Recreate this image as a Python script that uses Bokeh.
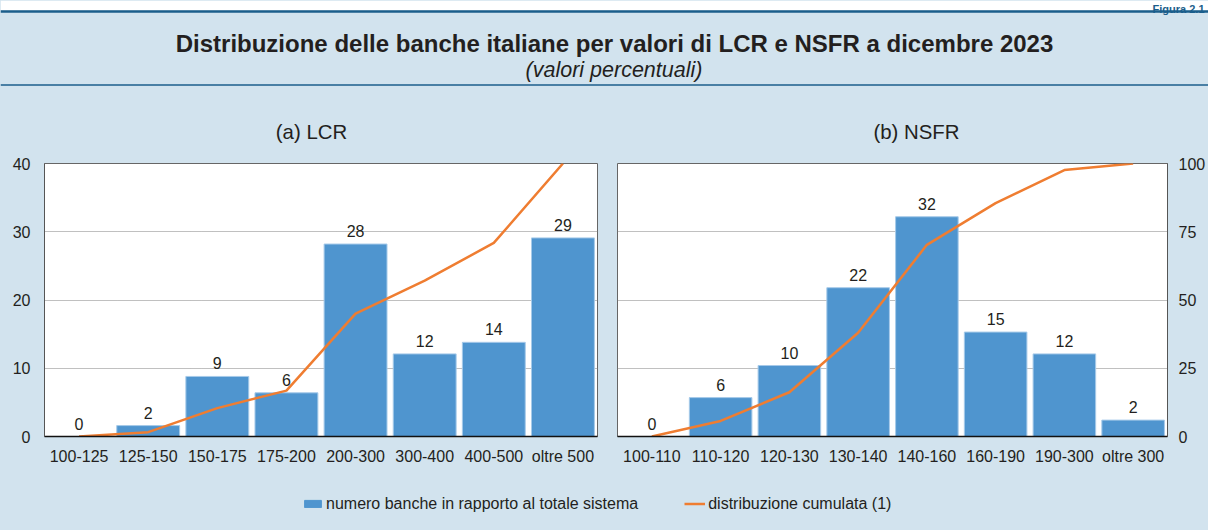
from bokeh.plotting import figure
from bokeh.layouts import column, row
from bokeh.models import (Range1d, FactorRange, LinearAxis, FixedTicker, Span, BoxAnnotation,
                          Legend, LegendItem, ColumnDataSource)
from bokeh.core.properties import value
from bokeh.embed import file_html
from bokeh.resources import INLINE

# ---------------- data ----------------
figure_tag = "Figura 2.1"
title_text = "Distribuzione delle banche italiane per valori di LCR e NSFR a dicembre 2023"
subtitle_text = "(valori percentuali)"
panel_a_title = "(a) LCR"
panel_b_title = "(b) NSFR"
bar_series_name = "numero banche in rapporto al totale sistema"
line_series_name = "distribuzione cumulata (1)"

lcr_categories = ["100-125", "125-150", "150-175", "175-200", "200-300", "300-400", "400-500", "oltre 500"]
lcr_values = [0, 1.6, 8.8, 6.4, 28.2, 12.1, 13.8, 29.1]
lcr_labels = ["0", "2", "9", "6", "28", "12", "14", "29"]
lcr_cumulative = [0, 1.6, 10.4, 16.8, 45.0, 57.1, 70.9, 100]

nsfr_categories = ["100-110", "110-120", "120-130", "130-140", "140-160", "160-190", "190-300", "oltre 300"]
nsfr_values = [0, 5.7, 10.4, 21.8, 32.2, 15.3, 12.1, 2.4]
nsfr_labels = ["0", "6", "10", "22", "32", "15", "12", "2"]
nsfr_cumulative = [0, 5.7, 16.2, 38.0, 70.2, 85.5, 97.6, 100]

bar_ticks = [0, 10, 20, 30, 40]
cum_ticks = [0, 25, 50, 75, 100]
grid_ticks = [10, 20, 30]

# ---------------- style ----------------
BG = "#d2e3ee"
DARK = "#1b5e8b"
BAR = "#4f95cf"
BAR_EDGE = "#a6cae9"
LINE = "#ef7d31"
TEXT = "#231f20"
FONT = "Liberation Sans"
TOTAL_W = 1208
HEADER_H = 148
PANEL_H = 322
LEGEND_H = 60
P1_W = 607


def style_axis(ax, standoff):
    ax.major_tick_line_color = None
    ax.minor_tick_line_color = None
    ax.major_tick_out = 0
    ax.major_tick_in = 0
    ax.major_label_text_font = FONT
    ax.major_label_text_font_size = "16px"
    ax.major_label_text_color = TEXT
    ax.major_label_standoff = standoff


def make_panel(categories, values, labels, cumulative, width, b_left, b_right, left_axis, right_axis):
    p = figure(width=width, height=PANEL_H, x_range=FactorRange(factors=categories),
               y_range=Range1d(0, 40), output_backend="svg", toolbar_location=None,
               min_border_left=b_left, min_border_right=b_right, min_border_top=15,
               min_border_bottom=34, background_fill_color="white", border_fill_color=BG,
               outline_line_color="#666666", outline_line_width=1)
    p.extra_y_ranges = {"cum": Range1d(0, 100)}
    src = ColumnDataSource(dict(cat=categories, val=values, lab=labels, cum=cumulative))

    p.vbar(x="cat", top="val", width=0.91, source=src, fill_color=BAR,
           line_color=BAR_EDGE, line_width=1)
    p.line(x="cat", y="cum", source=src, y_range_name="cum", line_color=LINE, line_width=2.5)
    p.text(x="cat", y="val", text="lab", source=src, y_offset=-13,
           text_align="center", text_baseline="middle", text_font=value(FONT),
           text_font_size="16px", text_color=TEXT)

    p.xgrid.visible = False
    p.ygrid.ticker = FixedTicker(ticks=grid_ticks)
    p.ygrid.grid_line_color = "#808080"
    p.ygrid.grid_line_dash = "1 1"
    p.ygrid.grid_line_width = 1

    xa = p.xaxis[0]
    style_axis(xa, 11)
    xa.axis_line_color = "#111111"
    xa.axis_line_width = 1.5

    ya = p.yaxis[0]
    ya.ticker = FixedTicker(ticks=bar_ticks)
    style_axis(ya, 14)
    ya.axis_line_color = "#555555"
    if not left_axis:
        ya.visible = False

    if right_axis:
        ra = LinearAxis(y_range_name="cum", ticker=FixedTicker(ticks=cum_ticks))
        style_axis(ra, 11)
        ra.axis_line_color = "#555555"
        p.add_layout(ra, "right")
    return p


# ---------------- header ----------------
header = figure(width=TOTAL_W, height=HEADER_H, x_range=Range1d(0, TOTAL_W),
                y_range=Range1d(HEADER_H, 0), x_axis_type=None, y_axis_type=None,
                output_backend="svg", toolbar_location=None, min_border=0,
                background_fill_color=BG, border_fill_color=BG, outline_line_color=None)
header.grid.visible = False
header.add_layout(BoxAnnotation(top=0, bottom=10, fill_color="white", fill_alpha=1,
                                line_color=None, level="underlay"))
header.add_layout(Span(location=11, dimension="width", line_color=DARK, line_width=2.5))
header.add_layout(Span(location=84.5, dimension="width", line_color=DARK, line_width=1.5))
header.text(x=[1204], y=[8.5], text=[figure_tag], text_align="right",
            text_baseline="alphabetic", text_font=value(FONT), text_font_size="11px",
            text_font_style="bold", text_color=DARK)
header.text(x=[614], y=[43.3], text=[title_text], text_align="center",
            text_baseline="alphabetic", text_font=value(FONT), text_font_size="24px",
            text_font_style="bold", text_color=TEXT)
header.text(x=[613.5], y=[69], text=[subtitle_text], text_align="center",
            text_baseline="alphabetic", text_font=value(FONT), text_font_size="21.5px",
            text_font_style="italic", text_color=TEXT)
header.text(x=[311, 916], y=[131.7, 131.7], text=[panel_a_title, panel_b_title],
            text_align="center", text_baseline="alphabetic", text_font=value(FONT),
            text_font_size="20.4px", text_color=TEXT)

# ---------------- panels ----------------
p1 = make_panel(lcr_categories, lcr_values, lcr_labels, lcr_cumulative, P1_W, 44, 10, True, False)
p2 = make_panel(nsfr_categories, nsfr_values, nsfr_labels, nsfr_cumulative, TOTAL_W - P1_W, 10, 38, False, True)

# ---------------- legend ----------------
lg = figure(width=TOTAL_W, height=LEGEND_H, x_range=Range1d(0, 1), y_range=Range1d(0, 1),
            x_axis_type=None, y_axis_type=None, output_backend="svg", toolbar_location=None,
            min_border=0, background_fill_color=BG, border_fill_color=BG, outline_line_color=None)
lg.grid.visible = False
nan = float("nan")
r_bar = lg.vbar(x=[nan], top=[nan], width=0.5, fill_color=BAR, line_color=BAR)
r_line = lg.line(x=[nan, nan], y=[nan, nan], line_color=LINE, line_width=2.5)
legend = Legend(items=[LegendItem(label=bar_series_name, renderers=[r_bar]),
                       LegendItem(label=line_series_name, renderers=[r_line])],
                orientation="horizontal", location=(302, 17.5), glyph_width=21, glyph_height=9,
                label_standoff=3, spacing=46, padding=0, margin=0, border_line_color=None,
                background_fill_alpha=0, label_text_font=FONT, label_text_font_size="16px",
                label_text_color=TEXT)
lg.add_layout(legend)

bg_style = {"background-color": BG}
layout = column(header, row(p1, p2, spacing=0, styles=bg_style), lg, spacing=0, styles=bg_style)

with open("out.html", "w") as f:
    f.write(file_html(layout, INLINE))
